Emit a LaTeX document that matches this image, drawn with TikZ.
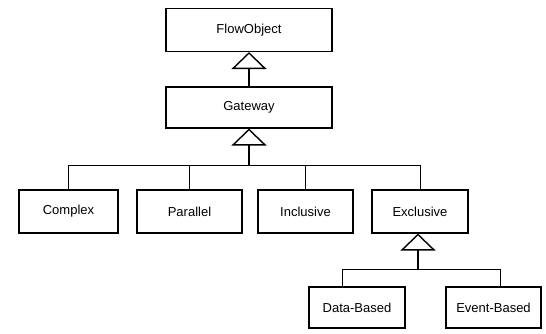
\documentclass[tikz,border=0pt]{standalone}
\usepackage{fontspec}
\setmainfont{Liberation Sans}
\usepackage{tikz}
\usetikzlibrary{positioning,arrows.meta,calc}

\begin{document}
\begin{tikzpicture}[
  x=1pt, y=-1pt,
  every node/.style={inner sep=0pt},
  cls/.style={draw, line width=1.1pt, minimum height=43pt, font=\fontsize{13}{15}\selectfont},
  gen/.style={-{Triangle[open,length=17pt,width=35pt]}, line width=1.4pt},
  bar/.style={line width=0.8pt}
]
\useasboundingbox (0,0) rectangle (546,334);

% Nodes (x,y in px of the original)
\node[cls, minimum width=166pt] (FlowObject) at (249,30)    {FlowObject};
\node[cls, minimum width=166pt, minimum height=41pt] (Gateway) at (249,107.5) {Gateway};

\node[cls, minimum width=99pt]  (Complex)   at (68.5,211.5)  {Complex};
\node[cls, minimum width=105pt] (Parallel)  at (189.5,211.5) {Parallel};
\node[cls, minimum width=95pt]  (Inclusive) at (305.5,211.5) {Inclusive};
\node[cls, minimum width=96pt]  (Exclusive) at (420,211.5)   {Exclusive};

\node[cls, minimum width=96pt, minimum height=41pt] (DataBased)  at (357,307.5)   {Data-Based};
\node[cls, minimum width=95pt, minimum height=41pt] (EventBased) at (493.5,307.5) {Event-Based};

\coordinate (gbar) at (Gateway.south |- 0,165);
\coordinate (ebar) at (418,269);
\coordinate (dtop) at ($(DataBased.north west)!0.35!(DataBased.north east)$);
\coordinate (etop) at ($(EventBased.north west)!0.57!(EventBased.north east)$);

% Arrows
\draw[gen] (Gateway.north) -- (FlowObject.south);
\draw[gen] (gbar) -- (Gateway.south);
\draw[gen] (ebar) -- (Exclusive.south -| ebar);

\foreach \n in {Complex,Parallel,Inclusive,Exclusive}
  \draw[bar] (\n.north) |- (gbar);
\draw[bar] (dtop) |- (ebar);
\draw[bar] (etop) |- (ebar);
\end{tikzpicture}
\end{document}
